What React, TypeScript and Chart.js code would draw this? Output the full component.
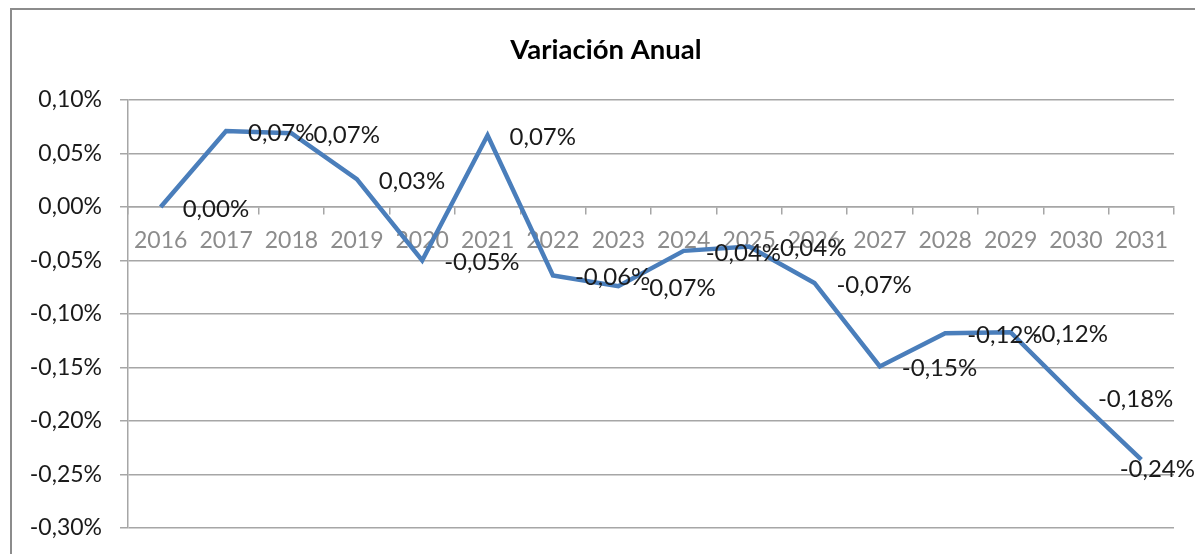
import React, { useEffect, useRef } from "react";
import { Chart, registerables } from "chart.js";

Chart.register(...registerables);

const TITLE = "Variación Anual";
const years: string[] = [
  "2016", "2017", "2018", "2019", "2020", "2021", "2022", "2023",
  "2024", "2025", "2026", "2027", "2028", "2029", "2030", "2031",
];
const variation: number[] = [
  0.0, 0.071, 0.069, 0.026, -0.05, 0.067, -0.064, -0.074,
  -0.041, -0.037, -0.071, -0.149, -0.118, -0.117, -0.178, -0.236,
];
const Y_MIN = -0.3;
const Y_MAX = 0.1;
const Y_STEP = 0.05;

const FONT = "Lato, 'Open Sans', sans-serif";

const fmt = (v: number) => {
  const r = Math.round(v * 100) / 100;
  const s = (Object.is(r, -0) ? 0 : r).toFixed(2).replace(".", ",");
  return s + "%";
};

const framePlugin = {
  id: "frame",
  beforeDraw(chart: any) {
    const ctx = chart.ctx;
    ctx.save();
    ctx.fillStyle = "#ffffff";
    ctx.fillRect(0, 0, chart.width, chart.height);
    ctx.strokeStyle = "#8c8c8c";
    ctx.lineWidth = 2;
    ctx.beginPath();
    ctx.moveTo(11, chart.height + 5);
    ctx.lineTo(11, 9);
    ctx.lineTo(chart.width + 5, 9);
    ctx.stroke();
    ctx.font = `bold 27.5px ${FONT}`;
    ctx.fillStyle = "#000000";
    ctx.textAlign = "center";
    ctx.textBaseline = "middle";
    ctx.fillText(TITLE, 606, 50);
    ctx.restore();
  },
};

const labelPlugin = {
  id: "pointLabels",
  afterDatasetsDraw(chart: any) {
    const ctx = chart.ctx;
    const meta = chart.getDatasetMeta(0);
    const data = chart.data.datasets[0].data as number[];
    ctx.save();
    ctx.font = `24px ${FONT}`;
    ctx.fillStyle = "#1a1a1a";
    ctx.textAlign = "left";
    ctx.textBaseline = "middle";
    meta.data.forEach((pt: any, i: number) => {
      const txt = fmt(data[i]);
      const w = ctx.measureText(txt).width;
      let x = pt.x + 22;
      let y = pt.y + 2;
      if (x + w > chart.width) {
        x = chart.width - w;
        y = pt.y + 10;
      }
      ctx.fillText(txt, x, y);
    });
    ctx.restore();
  },
};

export default function App() {
  const ref = useRef<HTMLCanvasElement | null>(null);
  useEffect(() => {
    if (!ref.current) return;
    const chart = new Chart(ref.current, {
      type: "line",
      data: {
        labels: years,
        datasets: [
          {
            data: variation,
            borderColor: "#4a7ebb",
            borderWidth: 4.5,
            pointRadius: 0,
            tension: 0,
            fill: false,
          },
        ],
      },
      options: {
        responsive: false,
        animation: false,
        layout: { padding: { top: 100, right: 21, bottom: 26, left: 0 } },
        plugins: {
          legend: { display: false },
          title: { display: false },
          tooltip: { enabled: false },
        },
        scales: {
          x: {
            type: "category",
            position: { y: 0 },
            offset: true,
            grid: {
              offset: true,
              drawOnChartArea: false,
              drawTicks: true,
              tickLength: 7,
              color: "#a6a6a6",
              lineWidth: 1.5,
            },
            border: { display: true, color: "#a6a6a6", width: 1.5 },
            ticks: {
              color: "#8c8c8c",
              font: { family: FONT, size: 23 },
              padding: 13,
              maxRotation: 0,
              autoSkip: false,
            },
          },
          y: {
            min: Y_MIN,
            max: Y_MAX,
            afterFit: (scale: any) => {
              scale.width = 128;
              scale.paddingTop = 0;
              scale.paddingBottom = 0;
            },
            grid: {
              color: "#a6a6a6",
              lineWidth: 1.5,
              tickLength: 8,
            },
            border: { display: true, color: "#a6a6a6", width: 1.5 },
            ticks: {
              stepSize: Y_STEP,
              color: "#1a1a1a",
              font: { family: FONT, size: 23 },
              padding: 18,
              callback: (v: any) => fmt(Number(v)),
            },
          },
        },
      },
      plugins: [framePlugin, labelPlugin],
    });
    return () => chart.destroy();
  }, []);
  return (
    <div style={{ position: "fixed", left: 0, top: 0, width: 1195, height: 554 }}>
      <canvas ref={ref} width={1195} height={554} style={{ display: "block" }} />
    </div>
  );
}
